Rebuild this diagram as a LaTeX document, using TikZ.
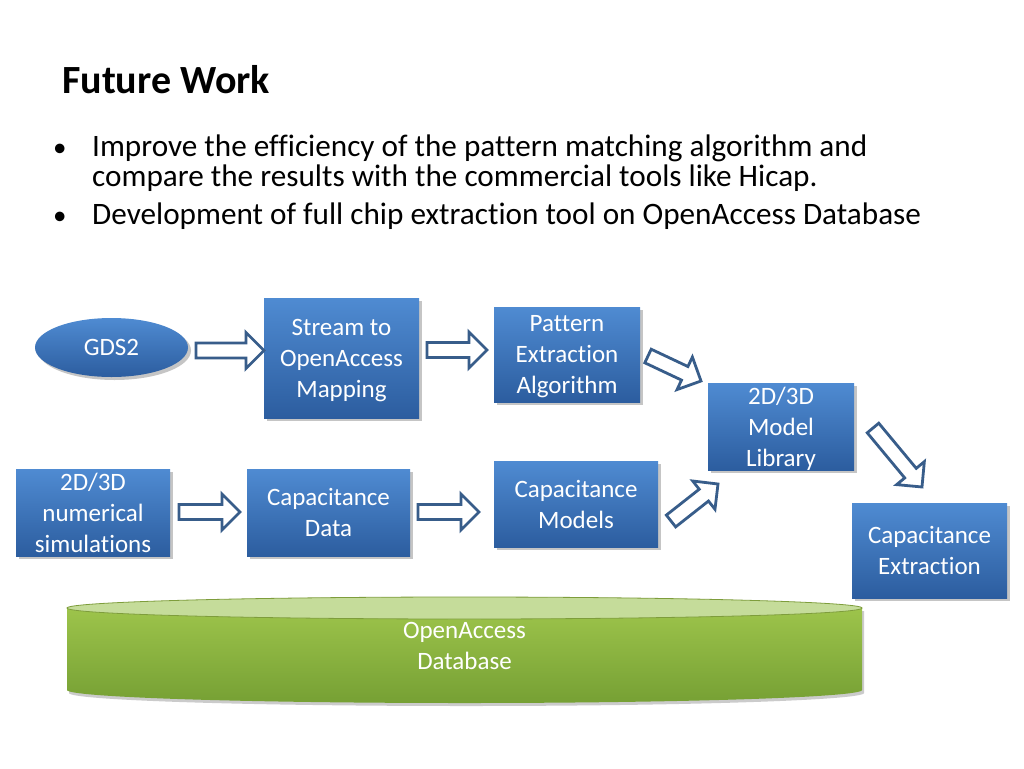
\documentclass[tikz,border=0pt]{standalone}
\usepackage{fontspec}
\setmainfont{Carlito}[Ligatures=NoCommon]
\usetikzlibrary{shapes.geometric,shadows,calc}
\definecolor{boxtop}{HTML}{4F8BD2}
\definecolor{boxbot}{HTML}{2C5D9F}
\definecolor{arrowline}{HTML}{385D8A}
\definecolor{cyltop}{HTML}{C5DC9A}
\definecolor{cylmid}{HTML}{9DC44B}
\definecolor{cylbot}{HTML}{76A034}
\tikzset{
  bluebox/.style={rectangle, top color=boxtop, bottom color=boxbot, draw=none,
    text=white, align=center, font=\fontsize{25}{31}\selectfont,
    drop shadow={shadow xshift=3pt, shadow yshift=-3pt, fill=black!45, opacity=0.5},
    inner sep=0pt},
  textdown/.style={text depth=0pt},
  blueell/.style={ellipse, top color=boxtop, bottom color=boxbot, draw=none,
    text=white, font=\fontsize{25}{31}\selectfont,
    drop shadow={shadow xshift=3pt, shadow yshift=-3pt, fill=black!45, opacity=0.5},
    inner sep=0pt},
  barrow/.style={draw=arrowline, fill=white, line width=2.8pt, line join=miter},
  bullettext/.style={anchor=base west, font=\fontsize{31.2}{31}\selectfont, inner sep=0pt},
  bulletdot/.style={anchor=base west, font=\fontsize{27}{27}\selectfont, inner sep=0pt},
}
\newcommand\blockarrow[2]{%
  \draw[barrow] let \p1=($(#2)-(#1)$), \n1={atan2(\y1,\x1)}, \n2={veclen(\x1,\y1)} in
    [shift={(#1)}, rotate=\n1]
    (0,-7.5) -- (\n2-18,-7.5) -- (\n2-18,-18) -- (\n2,0) -- (\n2-18,18) -- (\n2-18,7.5) -- (0,7.5) -- cycle;}
\begin{document}
\begin{tikzpicture}[x=1pt,y=-1pt]
\useasboundingbox (0,0) rectangle (1024,768);
\fill[white] (0,0) rectangle (1024,768);
% title and bullets
\node[anchor=base west, inner sep=0pt, font=\fontsize{40}{44}\selectfont\bfseries] (title) at (62,93) {Future Work};
\node[bulletdot] (b1) at (53,156) {\textbullet};
\node[bullettext] (t1) at (92,156) {Improve the efficiency of the pattern matching algorithm and};
\node[bullettext] (t2) at (92,186) {compare the results with the commercial tools like Hicap.};
\node[bulletdot] (b2) at (53,224) {\textbullet};
\node[bullettext] (t3) at (92,224) {Development of full chip extraction tool on OpenAccess Database};
% database cylinder
\shade[top color=cylmid, bottom color=cylbot, drop shadow={shadow xshift=2pt, shadow yshift=-3pt, fill=black!40, opacity=0.5}]
  (67,608) -- (67,690) arc[start angle=180, end angle=0, x radius=397.5, y radius=13] -- (862,608) -- cycle;
\fill[cyltop] (464.5,608) ellipse[x radius=397.5, y radius=11];
\draw[cylmid!80!black, line width=0.8pt] (464.5,608) ellipse[x radius=397.5, y radius=11];
\node[text=white, align=center, font=\fontsize{25}{31}\selectfont] (db) at (464.5,646) {OpenAccess\\Database};
% nodes
\node[blueell, minimum width=153pt, minimum height=59pt] (gds) at (111.5,347.5) {GDS2};
\node[bluebox, textdown, minimum width=155pt, minimum height=120pt] (stream) at (341.5,358) {Stream to\\OpenAccess\\Mapping};
\node[bluebox, textdown, minimum width=146pt, minimum height=95pt] (pattern) at (567,354.5) {Pattern\\Extraction\\Algorithm};
\node[bluebox, textdown, minimum width=146pt, minimum height=87pt] (lib) at (781,426.5) {2D/3D\\Model\\Library};
\node[bluebox, minimum width=154pt, minimum height=87pt] (num) at (93,512.5) {2D/3D\\numerical\\simulations};
\node[bluebox, minimum width=163pt, minimum height=87pt] (capdata) at (328.5,512.5) {Capacitance\\Data};
\node[bluebox, minimum width=164pt, minimum height=86pt] (capmod) at (576,504) {Capacitance\\Models};
\node[bluebox, minimum width=155pt, minimum height=95pt] (capext) at (929.5,550.5) {Capacitance\\Extraction};
% arrow end points
\coordinate (a1s) at (196,350.5); \coordinate (a1e) at (264,350.5);
\coordinate (a2s) at (427,350); \coordinate (a2e) at (487,350);
\coordinate (a3s) at (179,512); \coordinate (a3e) at (240,512);
\coordinate (a4s) at (418,512); \coordinate (a4e) at (479,512);
\coordinate (a5s) at (648,356); \coordinate (a5e) at (701,381);
\coordinate (a6s) at (671,521); \coordinate (a6e) at (718,484);
\coordinate (a7s) at (873,428); \coordinate (a7e) at (922,487);
\blockarrow{a1s}{a1e}
\blockarrow{a2s}{a2e}
\blockarrow{a3s}{a3e}
\blockarrow{a4s}{a4e}
\blockarrow{a5s}{a5e}
\blockarrow{a6s}{a6e}
\blockarrow{a7s}{a7e}
\end{tikzpicture}
\end{document}
